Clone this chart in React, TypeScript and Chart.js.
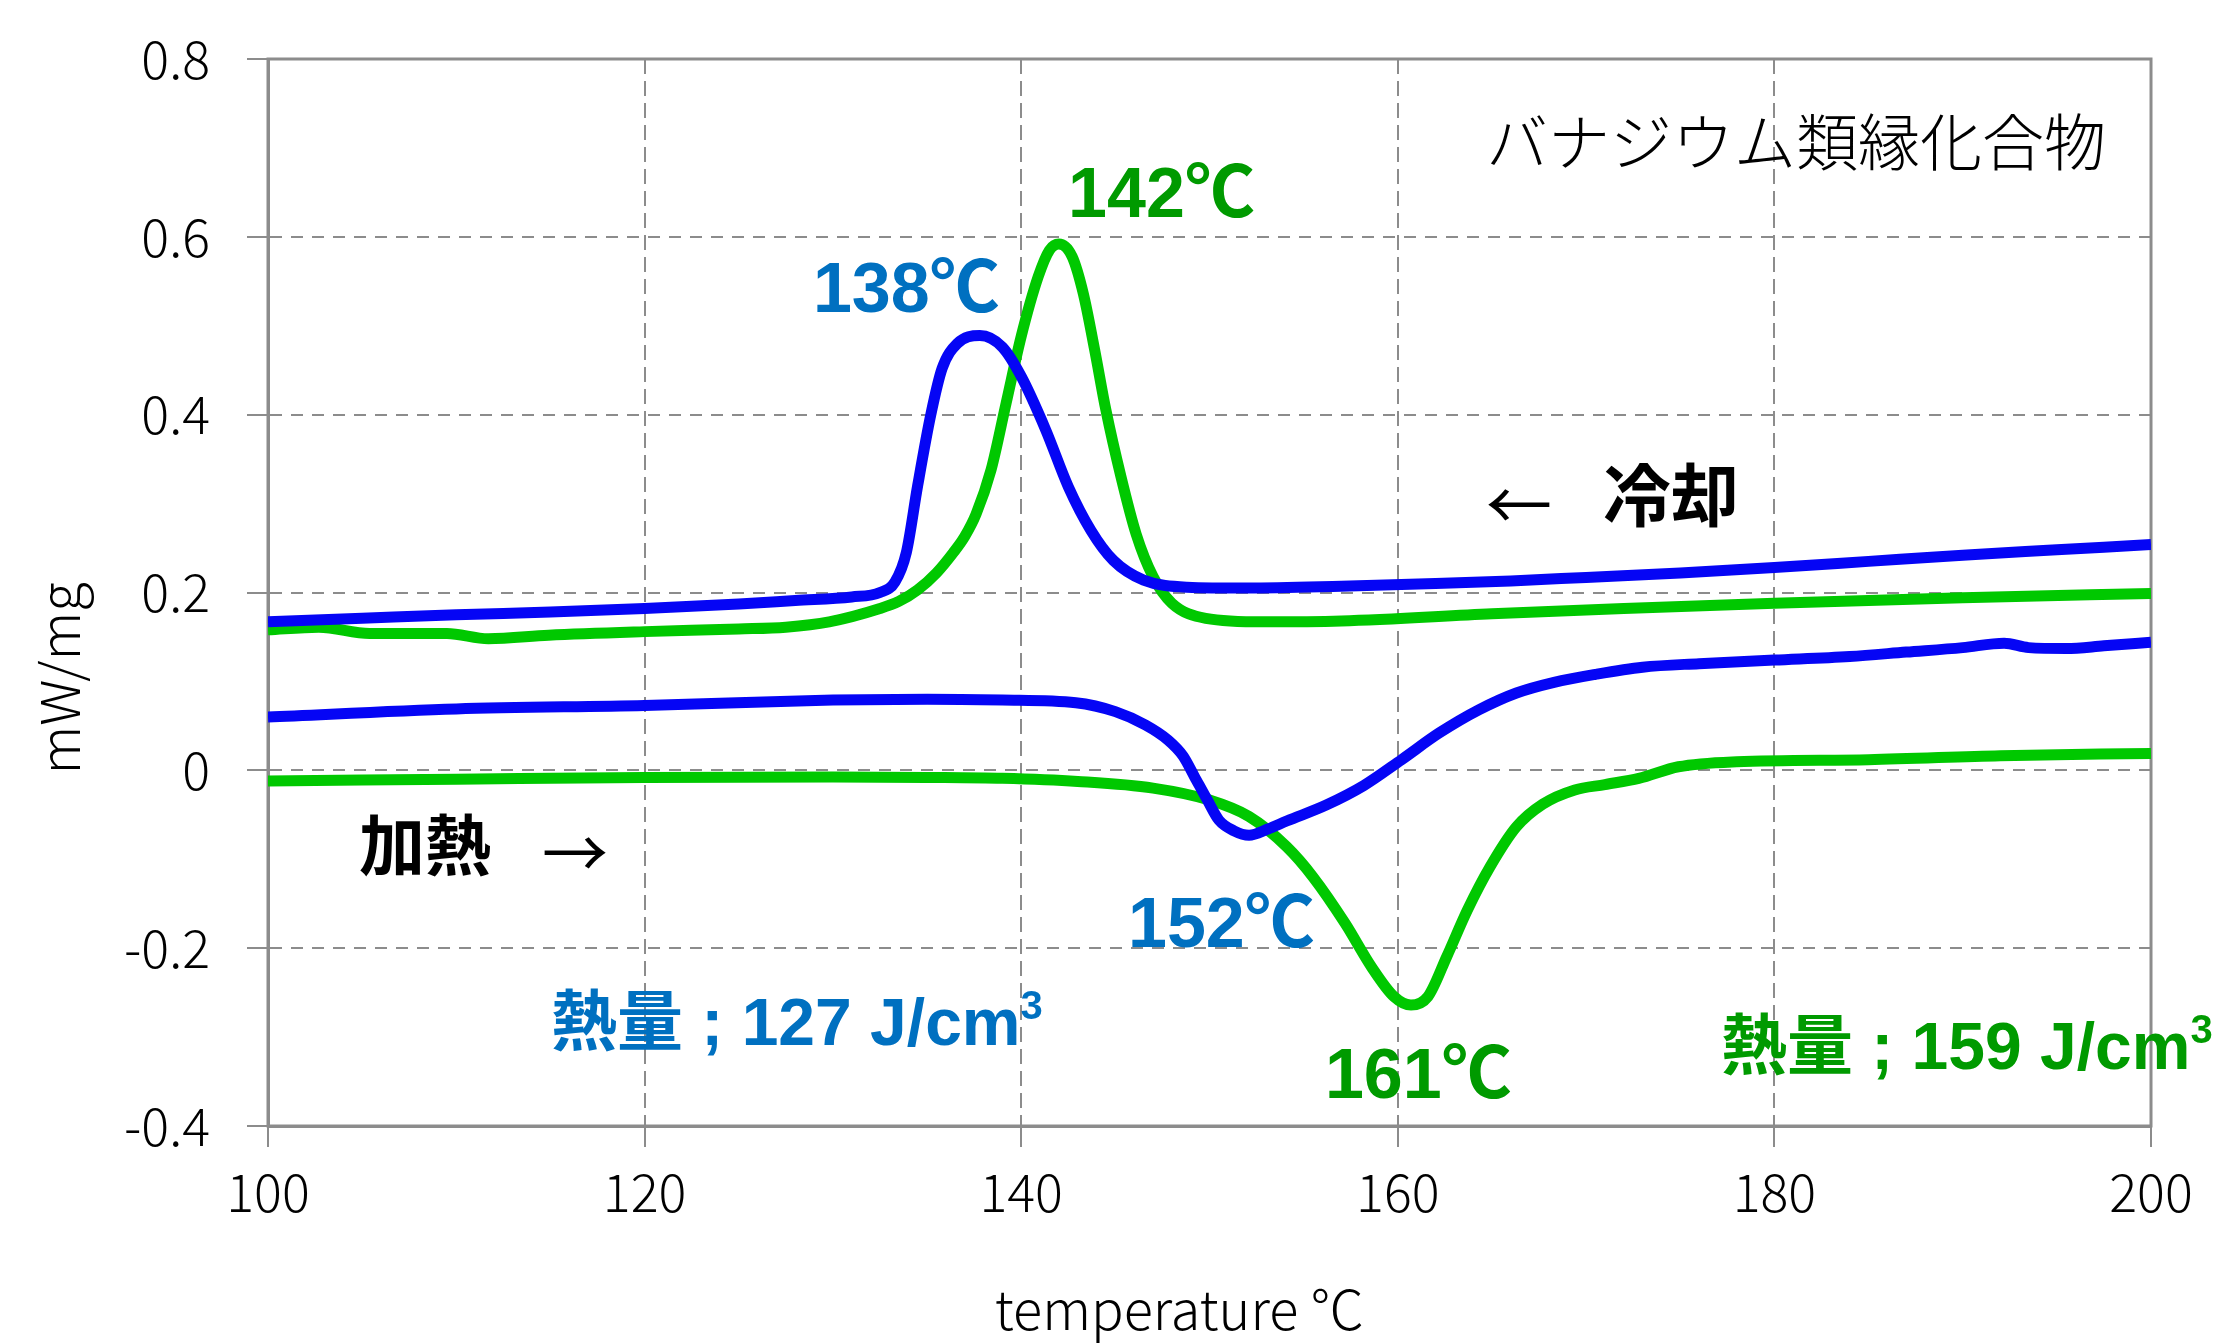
import React, { useEffect, useRef } from 'react';
import { Chart, registerables } from 'chart.js';

Chart.register(...registerables);

// ---------- data (temperature °C, heat flow mW/mg) ----------
const coolBlueT = [100, 105, 110, 115, 120, 125, 128, 131, 132.5, 133.3, 133.9, 134.5, 135.2, 135.8, 136.6, 137.8, 139.0, 140.0, 141.3, 142.5, 143.7, 144.9, 146.5, 148.8, 152, 157, 162, 166, 170, 175, 180, 185, 190, 195, 200];
const coolBlueV = [0.167, 0.171, 0.175, 0.178, 0.182, 0.187, 0.191, 0.195, 0.2, 0.212, 0.245, 0.32, 0.4, 0.452, 0.48, 0.489, 0.476, 0.443, 0.383, 0.319, 0.27, 0.236, 0.214, 0.206, 0.205, 0.207, 0.21, 0.213, 0.217, 0.222, 0.228, 0.235, 0.242, 0.248, 0.254];

const coolGreenT = [100, 102.7, 105.4, 109.5, 111.7, 114.9, 120, 125, 127.5, 129.8, 132.5, 133.5, 134.5, 135.5, 136.4, 137.0, 137.6, 138.4, 139.2, 140.0, 140.9, 141.5, 142.0, 142.7, 143.3, 143.9, 144.5, 145.3, 146.1, 147.0, 148.0, 149.8, 152.9, 157, 165, 172, 180, 190, 200];
const coolGreenV = [0.158, 0.161, 0.154, 0.154, 0.148, 0.152, 0.156, 0.159, 0.161, 0.167, 0.182, 0.19, 0.203, 0.222, 0.245, 0.263, 0.288, 0.338, 0.413, 0.488, 0.555, 0.585, 0.592, 0.578, 0.536, 0.473, 0.405, 0.33, 0.266, 0.218, 0.188, 0.171, 0.167, 0.168, 0.176, 0.182, 0.188, 0.194, 0.199];

const heatBlueT = [100, 110, 120, 130, 135, 139, 142.9, 145, 146.6, 147.8, 148.6, 149.2, 149.9, 150.5, 151.3, 152.1, 153.1, 154.1, 156.2, 158.2, 160.2, 162.2, 164.3, 166.3, 168.3, 170.5, 173, 176, 180, 184, 187, 190, 192.2, 193.5, 195.5, 197.5, 200];
const heatBlueV = [0.06, 0.069, 0.073, 0.079, 0.08, 0.079, 0.076, 0.066, 0.051, 0.034, 0.016, -0.007, -0.034, -0.056, -0.068, -0.073, -0.066, -0.057, -0.039, -0.017, 0.012, 0.042, 0.068, 0.087, 0.099, 0.108, 0.116, 0.12, 0.124, 0.128, 0.133, 0.138, 0.143, 0.138, 0.137, 0.14, 0.144];

const heatGreenT = [100, 110, 120, 130, 135, 139, 143, 147, 150, 152.1, 154.1, 155.5, 157.2, 158.6, 159.8, 160.7, 161.6, 162.6, 163.7, 164.9, 166.3, 167.7, 169.4, 171, 172.8, 174.9, 178, 185, 192, 200];
const heatGreenV = [-0.012, -0.01, -0.008, -0.0075, -0.008, -0.009, -0.0125, -0.02, -0.0335, -0.052, -0.086, -0.12, -0.172, -0.221, -0.2545, -0.264, -0.2545, -0.2095, -0.157, -0.1085, -0.0635, -0.038, -0.022, -0.016, -0.009, 0.004, 0.0097, 0.012, 0.0165, 0.019];

const xTicks = [100, 120, 140, 160, 180, 200];
const xTickLabels = ['100', '120', '140', '160', '180', '200'];
const yTicks = [-0.4, -0.2, 0, 0.2, 0.4, 0.6, 0.8];
const yTickLabels = ['-0.4', '-0.2', '0', '0.2', '0.4', '0.6', '0.8'];

const xTitle = 'temperature ℃';
const yTitle = 'mW/mg';

// ---------- styles ----------
const LINE_BLUE = '#0505f5';
const LINE_GREEN = '#00c800';
const TXT_BLUE = '#0070c0';
const TXT_GREEN = '#009a00';
const GRID = '#8c8c8c';
const LAT = "'Liberation Sans', 'Noto Sans CJK JP', sans-serif";
const JP = "'Noto Sans CJK JP', sans-serif";

type Part = { text: string; size: number; weight: string; family: string; rise?: number };
type Note = { x: number; y: number; color: string; baseline: CanvasTextBaseline; parts: Part[] };

const notes: Note[] = [
  { x: 128.94, y: 0.5154, color: TXT_BLUE, baseline: 'alphabetic', parts: [{ text: '138℃', size: 70, weight: 'bold', family: LAT }] },
  { x: 142.49, y: 0.6223, color: TXT_GREEN, baseline: 'alphabetic', parts: [{ text: '142℃', size: 70, weight: 'bold', family: LAT }] },
  { x: 145.67, y: -0.1989, color: TXT_BLUE, baseline: 'alphabetic', parts: [{ text: '152℃', size: 70, weight: 'bold', family: LAT }] },
  { x: 156.13, y: -0.3687, color: TXT_GREEN, baseline: 'alphabetic', parts: [{ text: '161℃', size: 70, weight: 'bold', family: LAT }] },
  {
    x: 115.03, y: -0.309, color: TXT_BLUE, baseline: 'alphabetic', parts: [
      { text: '熱量 ; 127 J/cm', size: 66, weight: 'bold', family: LAT },
      { text: '3', size: 40, weight: 'bold', family: LAT, rise: 26 },
    ]
  },
  {
    x: 177.16, y: -0.336, color: TXT_GREEN, baseline: 'alphabetic', parts: [
      { text: '熱量 ; 159 J/cm', size: 66, weight: 'bold', family: LAT },
      { text: '3', size: 40, weight: 'bold', family: LAT, rise: 26 },
    ]
  },
  { x: 104.83, y: -0.0841, color: '#000', baseline: 'middle', parts: [{ text: '加熱', size: 66, weight: 'bold', family: JP }] },
  { x: 114.55, y: -0.093, color: '#000', baseline: 'middle', parts: [{ text: '→', size: 66, weight: 'normal', family: JP }] },
  { x: 164.68, y: 0.2983, color: '#000', baseline: 'middle', parts: [{ text: '←', size: 66, weight: 'normal', family: JP }] },
  { x: 170.9, y: 0.3096, color: '#000', baseline: 'middle', parts: [{ text: '冷却', size: 68, weight: 'bold', family: JP }] },
  { x: 164.68, y: 0.706, color: '#000', baseline: 'middle', parts: [{ text: 'バナジウム類縁化合物', size: 62, weight: '300', family: JP }] },
];

const toPoints = (t: number[], v: number[]) => t.map((x, i) => ({ x, y: v[i] }));

const overlay = {
  id: 'overlay',
  beforeDatasetsDraw(chart: any) {
    const { ctx, chartArea: a } = chart;
    ctx.save();
    ctx.strokeStyle = GRID;
    ctx.lineWidth = 3;
    ctx.setLineDash([]);
    ctx.strokeRect(a.left, a.top, a.right - a.left, a.bottom - a.top);
    ctx.restore();
  },
  afterDatasetsDraw(chart: any) {
    const { ctx, chartArea: a, scales } = chart;
    ctx.save();
    for (const n of notes) {
      let px = scales.x.getPixelForValue(n.x);
      const py = scales.y.getPixelForValue(n.y);
      ctx.fillStyle = n.color;
      ctx.textAlign = 'left';
      ctx.textBaseline = n.baseline;
      for (const p of n.parts) {
        ctx.font = `${p.weight} ${p.size}px ${p.family}`;
        ctx.fillText(p.text, px, py - (p.rise || 0));
        px += ctx.measureText(p.text).width;
      }
    }
    // axis titles
    ctx.fillStyle = '#000';
    ctx.font = `300 54px ${JP}`;
    ctx.textAlign = 'center';
    ctx.textBaseline = 'alphabetic';
    ctx.fillText(xTitle, (a.left + a.right) / 2 - 30, a.bottom + 204);
    ctx.save();
    ctx.translate(80, (a.top + a.bottom) / 2 + 86);
    ctx.rotate(-Math.PI / 2);
    ctx.fillText(yTitle, 0, 0);
    ctx.restore();
    ctx.restore();
  },
};

export default function App() {
  const ref = useRef<HTMLCanvasElement | null>(null);
  useEffect(() => {
    if (!ref.current) return;
    const line = (t: number[], v: number[], c: string) => ({
      data: toPoints(t, v),
      borderColor: c,
      backgroundColor: c,
      borderWidth: 11,
      pointRadius: 0,
      cubicInterpolationMode: 'monotone' as const,
      fill: false,
    });
    const chart = new Chart(ref.current, {
      type: 'line',
      data: {
        datasets: [
          line(coolBlueT, coolBlueV, LINE_BLUE),
          line(coolGreenT, coolGreenV, LINE_GREEN),
          line(heatBlueT, heatBlueV, LINE_BLUE),
          line(heatGreenT, heatGreenV, LINE_GREEN),
        ],
      },
      options: {
        animation: false,
        responsive: false,
        maintainAspectRatio: false,
        layout: { padding: { top: 59, right: 64, left: 0, bottom: 0 } },
        plugins: { legend: { display: false }, tooltip: { enabled: false }, title: { display: false } },
        scales: {
          x: {
            type: 'linear',
            min: 100,
            max: 200,
            afterFit: (s: any) => { s.height = 217; },
            afterBuildTicks: (s: any) => { s.ticks = xTicks.map((value) => ({ value })); },
            grid: { color: GRID, lineWidth: 2, tickLength: 21, tickWidth: 2, tickColor: GRID, tickBorderDash: [] },
            border: { display: true, color: GRID, width: 3, dash: [15, 7] },
            ticks: {
              color: '#000',
              padding: 14,
              maxRotation: 0,
              autoSkip: false,
              font: { family: JP, size: 52, weight: 300 },
              callback: (v: any) => { const i = xTicks.indexOf(Number(v)); return i >= 0 ? xTickLabels[i] : ''; },
            },
          },
          y: {
            type: 'linear',
            min: -0.4,
            max: 0.8,
            afterFit: (s: any) => { s.width = 268; s.paddingTop = 0; s.paddingBottom = 0; },
            afterBuildTicks: (s: any) => { s.ticks = yTicks.map((value) => ({ value })); },
            grid: { color: GRID, lineWidth: 2, tickLength: 21, tickWidth: 2, tickColor: GRID, tickBorderDash: [] },
            border: { display: true, color: GRID, width: 3, dash: [12, 9] },
            ticks: {
              color: '#000',
              padding: 37,
              autoSkip: false,
              font: { family: JP, size: 52, weight: 300 },
              callback: (v: any) => { const i = yTicks.findIndex((t) => Math.abs(t - Number(v)) < 1e-9); return i >= 0 ? yTickLabels[i] : ''; },
            },
          },
        },
      },
      plugins: [overlay],
    });
    return () => chart.destroy();
  }, []);
  return (
    <div style={{ position: 'absolute', left: 0, top: 0, width: 2215, height: 1343, background: '#fff' }}>
      <canvas ref={ref} width={2215} height={1343} style={{ display: 'block', width: 2215, height: 1343 }} />
    </div>
  );
}
